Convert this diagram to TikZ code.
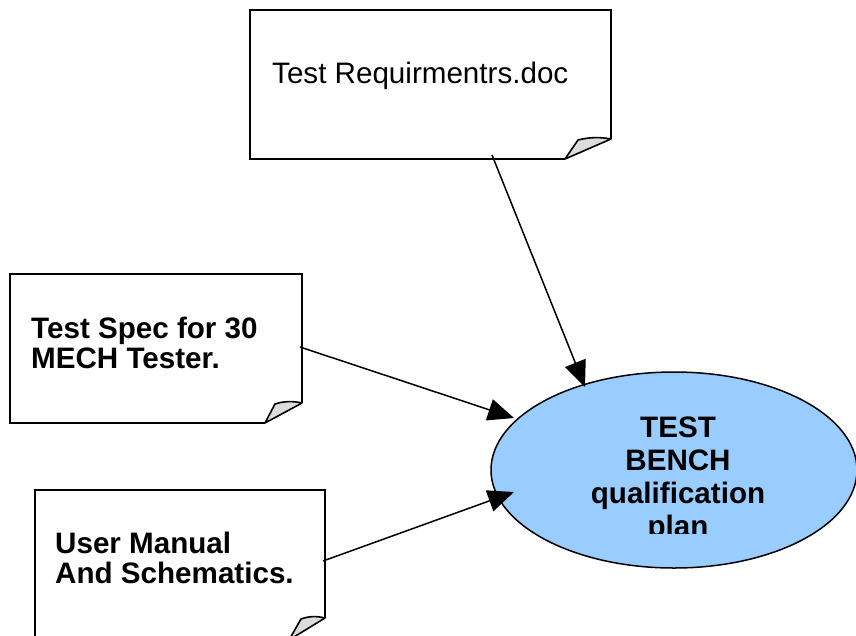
\documentclass[tikz,border=0pt]{standalone}
\usepackage{fontspec}
\setmainfont{Liberation Sans}
\usetikzlibrary{arrows.meta,shapes.geometric}
\definecolor{ellblue}{HTML}{99CCFF}
\definecolor{foldgray}{HTML}{DCDCDC}
\begin{document}
\begin{tikzpicture}[x=1pt,y=-1pt,
  doc/.style={draw=black,line width=1.6pt,line join=miter},
  fold/.style={draw=black,fill=foldgray,line width=1.6pt,line join=round},
  conn/.style={line width=1.5pt,-{Triangle[length=26pt,width=22pt]}},
  lbl/.style={anchor=base west,inner sep=0pt,font=\fontsize{29.6}{30}\selectfont},
  blbl/.style={anchor=base west,inner sep=0pt,font=\fontsize{29.6}{30}\selectfont\bfseries},
  elbl/.style={anchor=base,inner sep=0pt,font=\fontsize{29.6}{30}\selectfont\bfseries}]
\useasboundingbox (0,0) rectangle (856,635);
\clip (0,0) rectangle (856,635);
\fill[white] (0,0) rectangle (856,635);

% top document
\draw[doc] (565,159) -- (250,159) -- (250,10) -- (611,10) -- (611,139);
\draw[fold] (565,159) -- (578,140) .. controls (590,137) and (600,137) .. (611,139) -- cycle;
\node[lbl] (req) at (272,83) {Test Requirmentrs.doc};

% middle document
\draw[doc] (265,423) -- (10,423) -- (10,274) -- (302,274) -- (302,403);
\draw[fold] (265,423) -- (275,404) .. controls (284,401) and (293,401) .. (302,403) -- cycle;
\node[blbl] (spec1) at (31,338) {Test Spec for 30};
\node[blbl] (spec2) at (31,368) {MECH Tester.};

% bottom document
\draw[doc] (289,640) -- (35,640) -- (35,490) -- (325,490) -- (325,618);
\draw[fold] (289,640) -- (301,619) .. controls (309,616) and (317,616) .. (325,618) -- cycle;
\node[blbl] (man1) at (55,553) {User Manual};
\node[blbl] (man2) at (55,583) {And Schematics.};

% ellipse
\node[ellipse,draw=black,fill=ellblue,line width=1.5pt,minimum width=366pt,minimum height=196pt,inner sep=0pt,outer sep=0pt] (plan) at (674,470) {};
\begin{scope}
\clip (560,395) rectangle (800,533);
\node[elbl] (t1) at (678,437) {TEST};
\node[elbl] (t2) at (678,470) {BENCH};
\node[elbl] (t3) at (678,503) {qualification};
\node[elbl] (t4) at (678,536) {plan};
\end{scope}

% connectors
\coordinate (s1) at (492,155);
\coordinate (e1) at (585,387);
\coordinate (s2) at (300,347);
\coordinate (e2) at (514,418);
\coordinate (s3) at (323,561);
\coordinate (e3) at (514,492);
\draw[conn] (s1) -- (e1);
\draw[conn] (s2) -- (e2);
\draw[conn] (s3) -- (e3);
\end{tikzpicture}
\end{document}
